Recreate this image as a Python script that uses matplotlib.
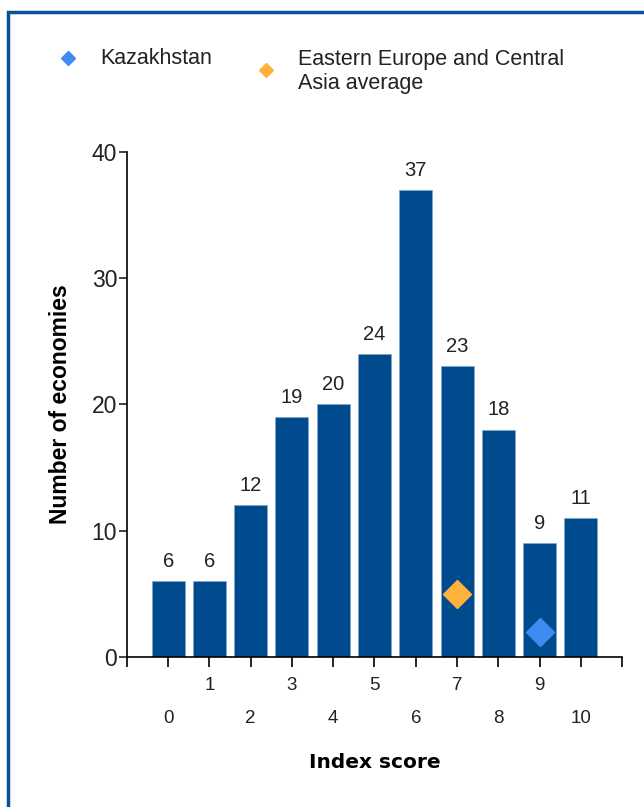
import matplotlib.pyplot as plt
from matplotlib.lines import Line2D
from matplotlib.patches import Rectangle

plt.rcParams['font.family'] = ['Liberation Sans', 'DejaVu Sans']

scores = list(range(11))
counts = [6, 6, 12, 19, 20, 24, 37, 23, 18, 9, 11]
kaz_score, kaz_value = 9, 2
region_score, region_value = 7, 5
legend_labels = ['Kazakhstan', 'Eastern Europe and Central\nAsia average']

bar_color = '#004b8d'
kaz_color = '#3f8cf0'
region_color = '#ffb23c'
text_color = '#222222'

fig = plt.figure(figsize=(6.44, 8.07), dpi=100)
ax = fig.add_axes([0.197, 0.186, 0.769, 0.626])

ax.bar(scores, counts, width=0.8, color=bar_color, edgecolor='#7fa6cc', linewidth=0.5, zorder=2)
for x, v in zip(scores, counts):
    ax.text(x, v + 0.8, str(v), ha='center', va='bottom', fontsize=14.5, color=text_color)

ax.plot([kaz_score], [kaz_value], marker='D', markersize=14, color=kaz_color, linestyle='none', zorder=3)
ax.plot([region_score], [region_value], marker='D', markersize=14, color=region_color, linestyle='none', zorder=3)

ax.set_xlim(-1, 11)
ax.set_ylim(0, 40)
ax.set_yticks([0, 10, 20, 30, 40])
ax.tick_params(axis='y', labelsize=16.5, length=6, width=1.2, pad=1, colors=text_color)
ax.set_xticks(range(-1, 12))
ax.set_xticklabels([])
ax.tick_params(axis='x', length=7, width=1.2)

# staggered x labels: odd scores on the upper row, even on the lower row
xt = ax.get_xaxis_transform()
for s in scores:
    row_y = -0.0574 if s % 2 else -0.121
    ax.text(s, row_y, str(s), transform=xt, ha='center', va='center', fontsize=13.5, color=text_color)

for side in ['top', 'right']:
    ax.spines[side].set_visible(False)
ax.spines['left'].set_linewidth(1.2)
ax.spines['bottom'].set_linewidth(1.2)

ax.set_ylabel('Number of economies', fontsize=16.5, fontweight='bold', labelpad=14)
ax.set_xlabel('Index score', fontsize=14.5, fontweight='bold', family=['DejaVu Sans'], labelpad=59)

# legend drawn by hand so the markers sit like the original
fig.add_artist(Line2D([0.1056], [0.9281], marker='D', color=kaz_color, linestyle='none',
                      markersize=7, transform=fig.transFigure))
fig.add_artist(Line2D([0.413], [0.9133], marker='D', color=region_color, linestyle='none',
                      markersize=7, transform=fig.transFigure))
fig.text(0.1553, 0.9281, legend_labels[0], ha='left', va='center', fontsize=15.5, color=text_color)
fig.text(0.4627, 0.9115, legend_labels[1], ha='left', va='center', fontsize=15.5,
         color=text_color, linespacing=1.15)

fig.patches.append(Rectangle((0.012, -0.05), 1.1, 1.035, transform=fig.transFigure,
                             fill=False, edgecolor='#0b4f96', linewidth=2.5))

fig.savefig('out.png', dpi=100)
